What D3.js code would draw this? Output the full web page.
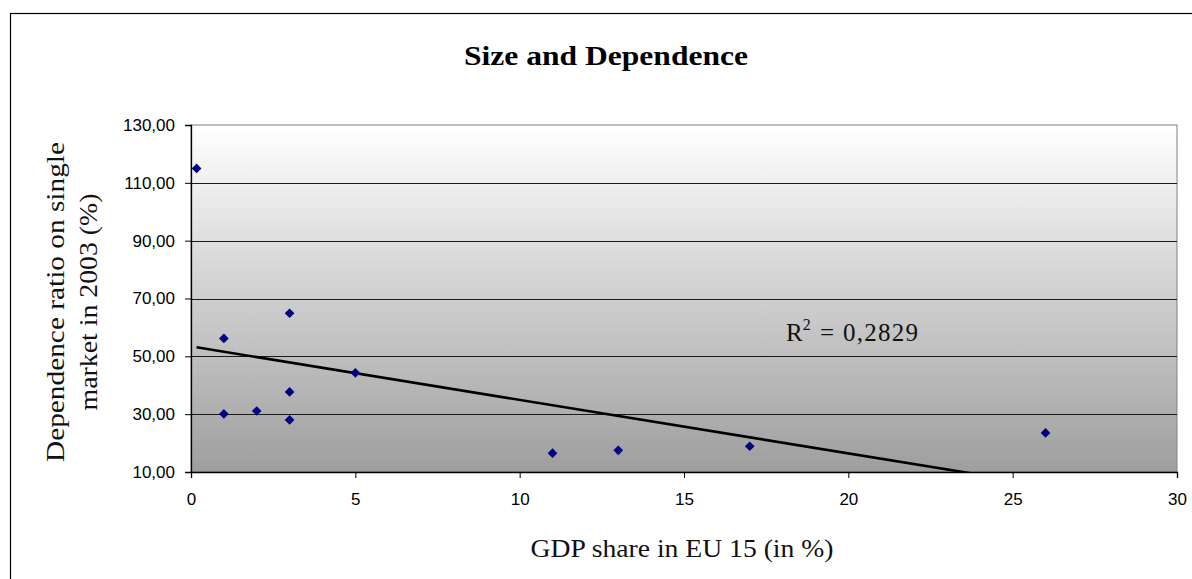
<!DOCTYPE html>
<html>
<head>
<meta charset="utf-8">
<script src="https://cdn.jsdelivr.net/npm/d3@7"></script>
<style>
  html, body { margin: 0; padding: 0; background: #fff; }
  svg { display: block; }
</style>
</head>
<body>
<svg id="chart" width="1192" height="579"></svg>
<script>
// GDP share in EU 15 (in %) and dependence ratio on single market in 2003 (%)
const gdpShare   = [0.17, 1, 1, 2, 3, 3, 3, 5, 11, 13, 17, 26];
const dependence = [115, 56.2, 30.1, 31.1, 64.9, 37.7, 28, 44.3, 16.5, 17.5, 18.9, 23.5];
const xTicks = [0, 5, 10, 15, 20, 25, 30];
const yTicks = [10, 30, 50, 70, 90, 110, 130];
const rSquaredLabel = "0,2829";

const width = 1192;
const height = 579;
const plot = { left: 191, right: 1177, top: 125, bottom: 472 };

const svg = d3.select('#chart');
const serif = "'Liberation Serif', 'DejaVu Serif', serif";
const sans = "'Liberation Sans', Arial, sans-serif";

// outer frame
svg.append('rect')
  .attr('x', 10.5).attr('y', 13.5)
  .attr('width', width + 20).attr('height', height + 20)
  .attr('fill', '#fff').attr('stroke', '#000').attr('stroke-width', 1.2);

const x = d3.scaleLinear().domain([0, 30]).range([plot.left, plot.right]);
const y = d3.scaleLinear().domain([10, 130]).range([plot.bottom, plot.top]);

const defs = svg.append('defs');
const grad = defs.append('linearGradient')
  .attr('id', 'bg').attr('x1', 0).attr('y1', 0).attr('x2', 0).attr('y2', 1);
grad.append('stop').attr('offset', '0%').attr('stop-color', '#ffffff');
grad.append('stop').attr('offset', '100%').attr('stop-color', '#9e9e9e');

defs.append('clipPath').attr('id', 'plotClip')
  .append('rect')
  .attr('x', plot.left).attr('y', plot.top)
  .attr('width', plot.right - plot.left).attr('height', plot.bottom - plot.top);

// plot background
svg.append('rect')
  .attr('x', plot.left).attr('y', plot.top)
  .attr('width', plot.right - plot.left).attr('height', plot.bottom - plot.top)
  .attr('fill', 'url(#bg)')
  .attr('stroke', '#808080').attr('stroke-width', 1);

// gridlines
svg.append('g')
  .selectAll('line')
  .data(yTicks.filter(d => d > 10 && d < 130))
  .join('line')
  .attr('x1', plot.left).attr('x2', plot.right)
  .attr('y1', d => Math.round(y(d)) + 0.5).attr('y2', d => Math.round(y(d)) + 0.5)
  .attr('stroke', '#1a1a1a').attr('stroke-width', 1);

// axes
const fmtY = d => d3.format('.2f')(d).replace('.', ',');

const xAxis = svg.append('g')
  .attr('transform', `translate(0,${plot.bottom})`)
  .call(d3.axisBottom(x).tickValues(xTicks).tickSizeOuter(0).tickSize(6).tickPadding(15));
const yAxis = svg.append('g')
  .attr('transform', `translate(${plot.left},0)`)
  .call(d3.axisLeft(y).tickValues(yTicks).tickFormat(fmtY).tickSizeOuter(0).tickSize(6).tickPadding(10));

[xAxis, yAxis].forEach(a => {
  a.select('.domain').attr('stroke', '#000').attr('stroke-width', 1.3);
  a.selectAll('.tick line').attr('stroke', '#000');
  a.selectAll('.tick text')
    .attr('font-family', sans).attr('font-size', 17).attr('fill', '#000');
});

// trendline (least squares fit)
const n = gdpShare.length;
const mx = d3.mean(gdpShare);
const my = d3.mean(dependence);
let sxy = 0, sxx = 0;
for (let i = 0; i < n; i++) {
  sxy += (gdpShare[i] - mx) * (dependence[i] - my);
  sxx += (gdpShare[i] - mx) ** 2;
}
const slope = sxy / sxx;
const intercept = my - slope * mx;
const x0 = d3.min(gdpShare), x1 = d3.max(gdpShare);

svg.append('line')
  .attr('clip-path', 'url(#plotClip)')
  .attr('x1', x(x0)).attr('y1', y(intercept + slope * x0))
  .attr('x2', x(x1)).attr('y2', y(intercept + slope * x1))
  .attr('stroke', '#000').attr('stroke-width', 2.6);

// points
svg.append('g')
  .selectAll('path')
  .data(gdpShare.map((d, i) => [d, dependence[i]]))
  .join('path')
  .attr('d', d3.symbol(d3.symbolDiamond2, 60))
  .attr('transform', d => `translate(${x(d[0])},${y(d[1])})`)
  .attr('fill', '#000080');

// R squared label
const rText = svg.append('text')
  .attr('x', 786).attr('y', 341)
  .attr('font-family', serif).attr('font-size', 25).attr('fill', '#111');
rText.append('tspan').text('R');
rText.append('tspan').attr('font-size', 16).attr('dy', -11).text('2');
rText.append('tspan').attr('x', 820).attr('dy', 11)
  .attr('textLength', 98).attr('lengthAdjust', 'spacing')
  .text(`= ${rSquaredLabel}`);

// title
svg.append('text')
  .attr('x', 606).attr('y', 65)
  .attr('text-anchor', 'middle')
  .attr('font-family', serif).attr('font-weight', 'bold').attr('font-size', 28)
  .attr('textLength', 284).attr('lengthAdjust', 'spacingAndGlyphs')
  .attr('fill', '#000')
  .text('Size and Dependence');

// x axis title
svg.append('text')
  .attr('x', 682).attr('y', 557)
  .attr('text-anchor', 'middle')
  .attr('font-family', serif).attr('font-size', 25).attr('fill', '#111')
  .attr('textLength', 303).attr('lengthAdjust', 'spacingAndGlyphs')
  .text('GDP share in EU 15 (in %)');

// y axis title
const yTitle = svg.append('text')
  .attr('transform', 'translate(0,302) rotate(-90)')
  .attr('text-anchor', 'middle')
  .attr('font-family', serif).attr('font-size', 25).attr('fill', '#111');
yTitle.append('tspan').attr('x', 0).attr('y', 64)
  .attr('textLength', 320).attr('lengthAdjust', 'spacingAndGlyphs')
  .text('Dependence ratio on single');
yTitle.append('tspan').attr('x', 0).attr('y', 97)
  .attr('textLength', 217).attr('lengthAdjust', 'spacingAndGlyphs')
  .text('market in 2003 (%)');
</script>
</body>
</html>
